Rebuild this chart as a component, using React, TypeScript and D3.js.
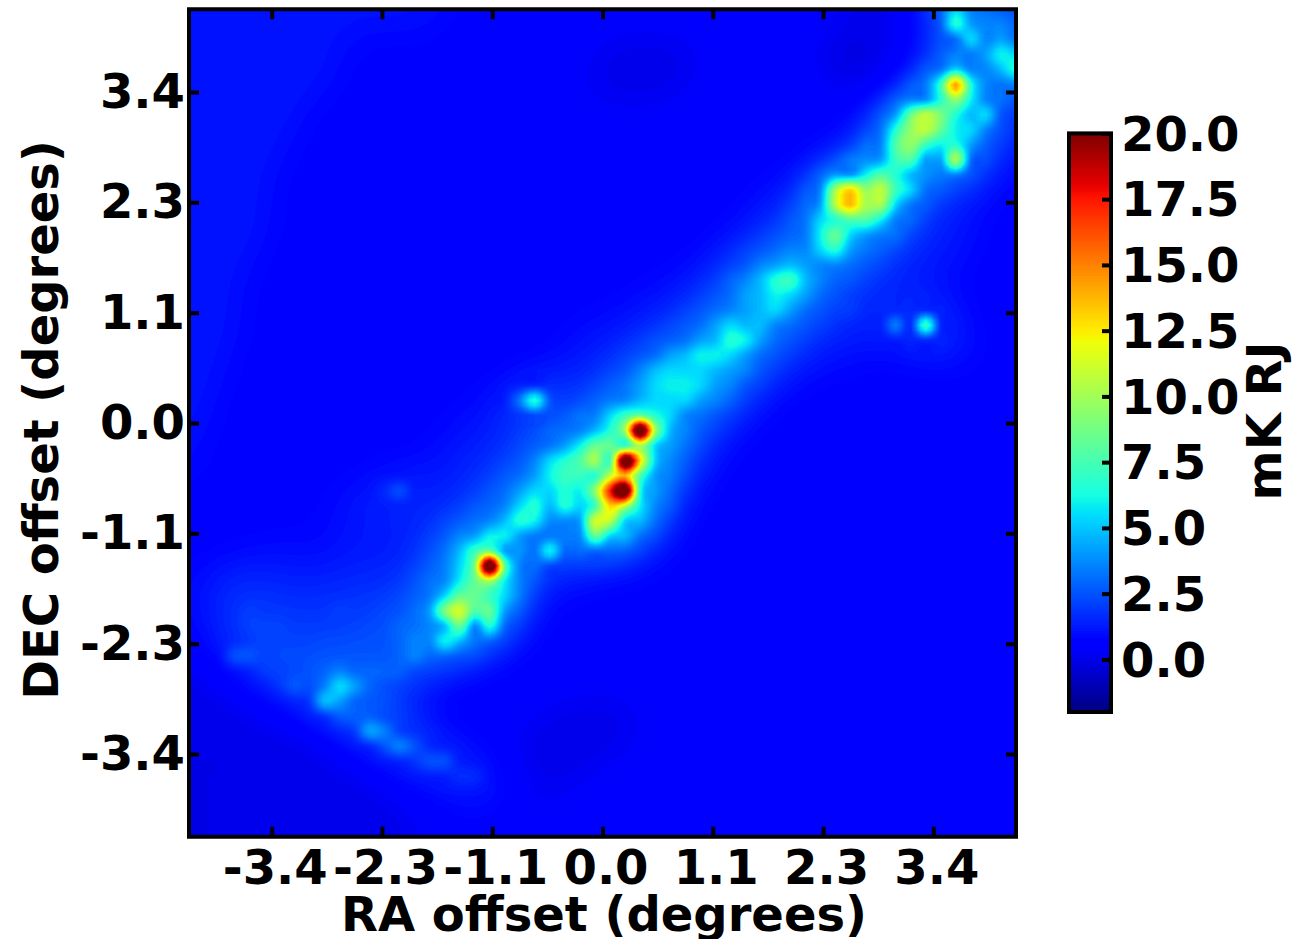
import React, { useEffect, useRef } from 'react';
import * as d3 from 'd3';

// brightness map, one string per row (top row first)
// each character is a base-36 level: value in mK = level * 0.6 - 0.6, z is a knot above the colour range
const mapRows = [
  '33333333 33333333 33222222 22222222 22222222 22221111 226a7643',
  '33333333 33333333 32222222 22222222 22222222 22221111 236c8774',
  '33333333 33222222 22222222 22221111 11222222 22111112 2236a786',
  '33333333 33322222 22222222 22211111 11122222 22110012 223468ba',
  '33333333 33322222 22222222 22211111 11122222 22110012 235a659c',
  '33333333 33222222 22222222 22111111 11222222 22211122 35dpc557',
  '33333333 32222222 22222222 22211111 12222222 22222223 57chb533',
  '33333333 22222222 22222222 22222222 22222222 22222348 fjgc9a53',
  '33333333 22222222 22222222 22222222 22222222 2222335c hjfba743',
  '33333332 22222222 22222222 22222222 22222222 2223346e hdbc8533',
  '33333332 22222222 22222222 22222222 22222222 2233358d e88i6432',
  '33333322 22222222 22222222 22222222 22222222 23346bec 95574332',
  '33333322 22222222 22222222 22222222 22222233 347inhjd a5433322',
  '33333322 22222222 22222222 22222222 22222233 358joiia 64333222',
  '33333322 22222222 22222222 22222222 22222234 46aceeb6 43333222',
  '33333322 22222222 22222222 22222222 22223345 56bfa864 43443222',
  '33333222 22222222 22222222 22222222 22233456 77ac8654 43332222',
  '33333222 22222222 22222222 22222222 22334578 98776544 33332222',
  '33332222 22222222 22222222 22222223 2334679c d9754443 33322222',
  '33332222 22222222 22222222 22222223 3345689b a8654333 33322222',
  '33332222 22222222 22222222 22222333 3456789a 86545333 33332222',
  '33332222 22222222 22222222 22333334 4568a997 65434337 3d332222',
  '33332222 22222222 22222222 22333344 5689cb86 54333333 34443222',
  '33322222 22222222 22222222 23333456 89bba865 43333322 23333222',
  '33322222 22222222 22222223 33344579 aaa98754 33322222 22222222',
  '33322222 22222222 22222223 3344568a bba87543 22222222 22222222',
  '33222222 22222222 2223337c 6345679a aa876432 22222222 22222222',
  '33222222 22222222 22233345 4446adfc a7654322 22222222 22222222',
  '33222222 22222222 23333333 4569cizi 97543222 22222222 22222222',
  '32222222 22222222 23333445 68bffcia 86432222 22222222 22222222',
  '32222222 22222223 23344457 aceidzna 75432222 22222222 22222222',
  '32222222 22222233 33344468 bddcjoe8 64322222 22222222 22222222',
  '22222222 22333564 3344468a acbhuzc8 53222222 22222222 22222222',
  '22222222 22333343 334457ac 9cadnjb7 43222222 22222222 22222222',
  '22222222 22333333 345579cb 568kja96 32222222 22222222 22222222',
  '22222223 22333333 4578bb86 557fa964 32222222 22222222 22222222',
  '22222333 22333334 569df855 b6455433 22222222 22222222 22222222',
  '22333333 33333334 56agzf64 43333332 22222222 22222222 22222222',
  '23444433 33444444 57bfib53 33332222 22222222 22222222 22222222',
  '23444444 44444445 6affda43 32222222 22222222 22222222 22222222',
  '23445444 44544556 8gkef843 22222222 22222222 22222222 22222222',
  '22345554 44445566 79f7c632 22222222 22222222 22222222 22222222',
  '22344554 45555567 7b964322 22222222 22222222 22222222 22222222',
  '22366555 55555567 66543222 22222222 22222222 22222222 22222222',
  '11223555 56766665 43222222 22222222 22222222 22222222 22222222',
  '11122356 57a86543 22222222 22222222 22222222 22222222 22222222',
  '11112223 49865443 22222222 21111122 22222222 22222222 22222222',
  '11111122 23666543 22222221 11111112 22222222 22222222 22222222',
  '11111111 12258754 32222211 11111112 22222222 22222222 22222222',
  '11111111 11222676 43222211 11111122 22222222 22222222 22222222',
  '11111111 11122235 66432211 11111222 22222222 22222222 22222222',
  '11111111 11111222 34554221 11122222 22222222 22222222 22222222',
  '11111111 11111122 22244321 11222222 22222222 22222222 22222222',
  '11111111 11111112 22222211 22222222 22222222 22222222 22222222',
  '11111111 11111111 22222221 22222222 22222222 22222222 22222222',
  '11111111 11111111 22222222 22222222 22222222 22222222 22222222',
];

const offsetTicks = [-3.4, -2.267, -1.133, 0, 1.133, 2.267, 3.4];
const offsetLabels = ['-3.4', '-2.3', '-1.1', '0.0', '1.1', '2.3', '3.4'];
const colorTicks = [0, 2.5, 5, 7.5, 10, 12.5, 15, 17.5, 20];

const FONT = '"DejaVu Sans", sans-serif';
const FONT_SIZE = 48;
const UPSAMPLE = 3;
const KNOT_VALUE = 23;

// jet, channel by channel
const jetR = d3.scaleLinear().domain([0, 0.35, 0.66, 0.89, 1]).range([0, 0, 255, 255, 128]);
const jetG = d3.scaleLinear().domain([0, 0.125, 0.375, 0.64, 0.91, 1]).range([0, 0, 255, 255, 0, 0]);
const jetB = d3.scaleLinear().domain([0, 0.11, 0.34, 0.65, 1]).range([128, 255, 255, 0, 0]);

// Catmull-Rom between b and c, held inside [b, c] so that peaks get no dark ring
const cubic = (a, b, c, d, t) => {
  const v = 0.5 * (2 * b + (c - a) * t + (2 * a - 5 * b + 4 * c - d) * t * t + (3 * b - a - 3 * c + d) * t * t * t);
  return Math.max(Math.min(b, c), Math.min(Math.max(b, c), v));
};

const resample = (line, factor) => {
  const out = [];
  for (let i = 0; i < line.length - 1; i++) {
    const a = line[Math.max(i - 1, 0)], b = line[i], c = line[i + 1], d = line[Math.min(i + 2, line.length - 1)];
    for (let k = 0; k < factor; k++) out.push(cubic(a, b, c, d, k / factor));
  }
  out.push(line[line.length - 1]);
  return out;
};

const App = () => {
  const svgRef = useRef(null);

  useEffect(() => {
    const svg = d3.select(svgRef.current);
    svg.selectAll('*').remove();

    const left = 189, right = 1016, top = 9.25, bottom = 836.75;
    const xScale = d3.scaleLinear().domain([-4.25, 4.25]).range([left, right]);
    const yScale = d3.scaleLinear().domain([-4.25, 4.25]).range([bottom, top]);

    const valueToT = d3.scaleLinear().domain([-2, 20]).range([0, 1]).clamp(true);
    const jetColor = (v) => {
      const t = valueToT(v);
      return d3.rgb(jetR(t), jetG(t), jetB(t)).formatHex();
    };

    // Decode the map
    const rows = mapRows.map((r) => r.replace(/ /g, '').padEnd(56, '2').slice(0, 56));
    const nx = 56, ny = rows.length;
    const raw = rows.flatMap((r) => r.split('').map((c) => (c === 'z' ? KNOT_VALUE : parseInt(c, 36) * 0.6 - 0.6)));

    // The faint background gets smoothed, the bright knots stay as read
    const blurred = Float64Array.from(raw);
    d3.blur2({ data: blurred, width: nx, height: ny }, 1);
    const smoothed = raw.map((v, i) => {
      const keep = Math.max(0, Math.min(1, (v - 1.8) / 2));
      return blurred[i] + (v - blurred[i]) * keep;
    });

    // imshow style bicubic upsampling, rows and then columns
    const byRow = d3.range(ny).map((j) => resample(smoothed.slice(j * nx, (j + 1) * nx), UPSAMPLE));
    const ux = byRow[0].length;
    const byCol = d3.range(ux).map((i) => resample(byRow.map((r) => r[i]), UPSAMPLE));
    const uy = byCol[0].length;
    const values = [];
    for (let j = 0; j < uy; j++) for (let i = 0; i < ux; i++) values.push(byCol[i][j]);

    // Filled contours, stacked from low to high
    const levels = d3.range(-1.2, 20.2, 0.15);
    const contours = d3.contours().size([ux, uy]).thresholds(levels).smooth(true)(values);

    const gridX = d3.scaleLinear().domain([0.5, ux - 0.5]).range([left, right]);
    const gridY = d3.scaleLinear().domain([0.5, uy - 0.5]).range([top, bottom]);
    const gridPath = d3.geoPath(d3.geoTransform({
      point(x, y) { this.stream.point(gridX(x), gridY(y)); },
    }));

    svg.append('defs').append('clipPath').attr('id', 'plot-clip')
      .append('rect')
      .attr('x', left).attr('y', top)
      .attr('width', right - left).attr('height', bottom - top);

    const plot = svg.append('g').attr('clip-path', 'url(#plot-clip)');
    plot.append('rect')
      .attr('x', left).attr('y', top)
      .attr('width', right - left).attr('height', bottom - top)
      .attr('fill', jetColor(-1.2));
    plot.selectAll('path.level')
      .data(contours)
      .join('path')
      .attr('class', 'level')
      .attr('d', gridPath)
      .attr('fill', (d) => jetColor(d.value + 0.075));

    // Axes, ticks point inward
    const xAxis = svg.append('g')
      .attr('transform', `translate(3,${bottom})`)
      .call(d3.axisBottom(xScale)
        .tickValues(offsetTicks)
        .tickFormat((_, i) => offsetLabels[i])
        .tickSize(-10).tickPadding(13));
    xAxis.selectAll('.tick line').attr('transform', 'translate(-3,0)');
    const yAxis = svg.append('g')
      .attr('transform', `translate(${left},0)`)
      .call(d3.axisLeft(yScale)
        .tickValues(offsetTicks)
        .tickFormat((_, i) => offsetLabels[i])
        .tickSize(-10).tickPadding(4));

    // Ticks also on the top and right edges
    svg.append('g')
      .attr('transform', `translate(0,${top})`)
      .call(d3.axisTop(xScale).tickValues(offsetTicks).tickFormat(() => '').tickSize(-10));
    svg.append('g')
      .attr('transform', `translate(${right},0)`)
      .call(d3.axisRight(yScale).tickValues(offsetTicks).tickFormat(() => '').tickSize(-10));

    // Colorbar
    const cbLeft = 1069, cbRight = 1111, cbTop = 133.4, cbBottom = 712;
    const cbScale = d3.scaleLinear().domain([-2, 20]).range([cbBottom, cbTop]);
    svg.append('g').selectAll('rect')
      .data(d3.range(-2, 20, 0.1))
      .join('rect')
      .attr('x', cbLeft).attr('width', cbRight - cbLeft)
      .attr('y', (d) => cbScale(d + 0.1) - 0.5)
      .attr('height', (d) => cbScale(d) - cbScale(d + 0.1) + 1)
      .attr('fill', (d) => jetColor(d + 0.05));
    const cbAxis = svg.append('g')
      .attr('transform', `translate(${cbRight},0)`)
      .call(d3.axisRight(cbScale)
        .tickValues(colorTicks)
        .tickFormat((d) => d.toFixed(1))
        .tickSize(-9).tickPadding(10));
    cbAxis.selectAll('text').attr('dy', '0.35em');

    // Frames
    svg.append('rect')
      .attr('x', left).attr('y', top)
      .attr('width', right - left).attr('height', bottom - top)
      .attr('fill', 'none').attr('stroke', 'black').attr('stroke-width', 4);
    svg.append('rect')
      .attr('x', cbLeft).attr('y', cbTop)
      .attr('width', cbRight - cbLeft).attr('height', cbBottom - cbTop)
      .attr('fill', 'none').attr('stroke', 'black').attr('stroke-width', 4);

    svg.selectAll('g .domain').remove();
    svg.selectAll('g .tick line').attr('stroke', 'black').attr('stroke-width', 4);
    [xAxis, yAxis, cbAxis].forEach((axis) => {
      axis.attr('font-family', FONT).attr('font-size', FONT_SIZE).attr('font-weight', 'bold');
      axis.selectAll('text').attr('fill', 'black');
    });

    // Axis titles
    const addTitle = (text, x, y, rotate) => svg.append('text')
      .attr('transform', `translate(${x},${y}) rotate(${rotate})`)
      .attr('text-anchor', 'middle')
      .attr('font-family', FONT).attr('font-size', FONT_SIZE).attr('font-weight', 'bold')
      .attr('fill', 'black')
      .text(text);
    addTitle('RA offset (degrees)', 604, 931, 0);
    addTitle('DEC offset (degrees)', 58, 420, -90);
    addTitle('mK RJ', 1281, 421, -90);
  }, []);

  return (
    <svg ref={svgRef} width={1305} height={939} style={{ position: 'absolute', left: 0, top: 0, background: 'white' }}></svg>
  );
};

export default App;
